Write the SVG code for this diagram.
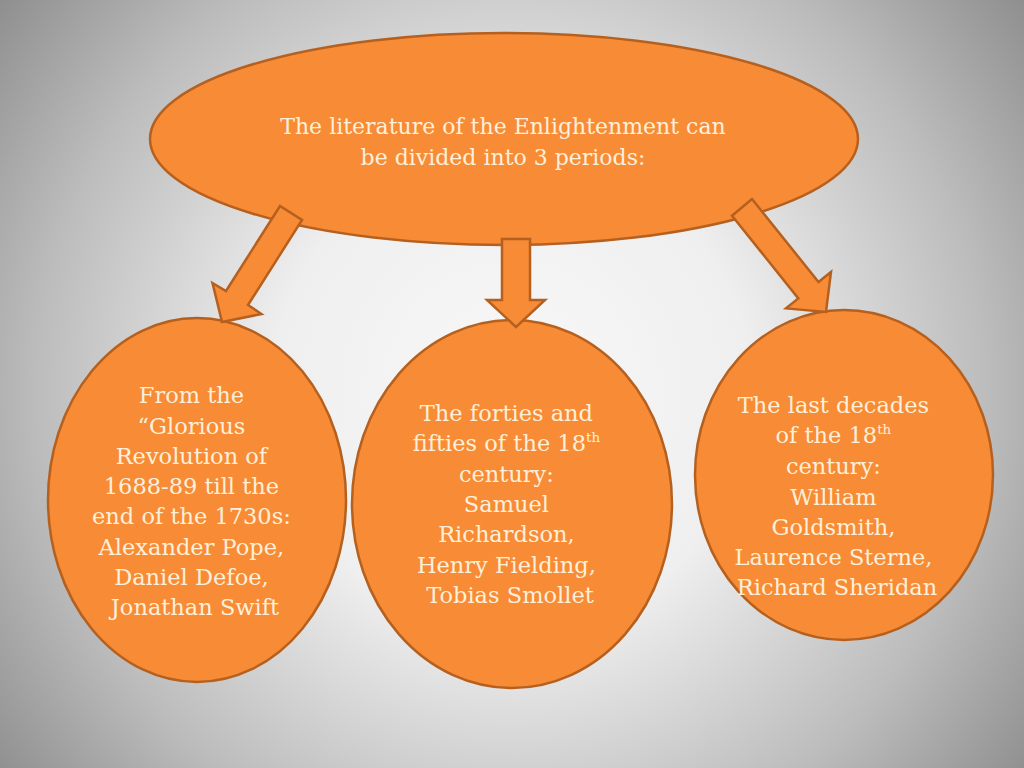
<svg xmlns="http://www.w3.org/2000/svg" width="1024" height="768" viewBox="0 0 1024 768">
<defs>
<radialGradient id="bg" cx="512" cy="390" r="680" gradientUnits="userSpaceOnUse">
<stop offset="0" stop-color="#f8f8f8"/>
<stop offset="0.35" stop-color="#efefef"/>
<stop offset="0.7" stop-color="#bcbcbc"/>
<stop offset="1" stop-color="#858585"/>
</radialGradient>
</defs>
<style>
.shape{fill:#f88b35;stroke:#b5601f;stroke-width:2.5}
.arrow{fill:#f88b35;stroke:#b5601f;stroke-width:2.5;stroke-linejoin:miter}
.t{font-family:"DejaVu Serif","Liberation Serif",serif;fill:#fdf0da;text-anchor:middle}
.top{font-size:22px}
.body{font-size:22.5px}
.sup{font-size:13.5px}
</style>
<rect width="1024" height="768" fill="url(#bg)"/>
<g id="top-node">
<ellipse class="shape" cx="504" cy="139" rx="354" ry="106"/>
<text class="t top" x="503" y="134">The literature of the Enlightenment can</text>
<text class="t top" x="503" y="165">be divided into 3 periods:</text>
</g>
<g id="left-node">
<ellipse class="shape" cx="197" cy="500" rx="149" ry="182"/>
<text class="t body" x="195">
<tspan x="195" y="403">From the</tspan>
<tspan x="195" y="434">“Glorious</tspan>
<tspan x="195" y="464">Revolution of</tspan>
<tspan x="195" y="494">1688-89 till the</tspan>
<tspan x="195" y="524">end of the 1730s:</tspan>
<tspan x="195" y="555">Alexander Pope,</tspan>
<tspan x="195" y="585">Daniel Defoe,</tspan>
<tspan x="195" y="615">Jonathan Swift</tspan>
</text>
</g>
<g id="middle-node">
<ellipse class="shape" cx="512" cy="504" rx="160" ry="184"/>
<text class="t body">
<tspan x="510" y="421">The forties and</tspan>
<tspan x="510" y="451">fifties of the 18<tspan class="sup" dy="-9">th</tspan></tspan>
<tspan x="510" y="482">century:</tspan>
<tspan x="510" y="512">Samuel</tspan>
<tspan x="510" y="542">Richardson,</tspan>
<tspan x="510" y="573">Henry Fielding,</tspan>
<tspan x="510" y="603">Tobias Smollet</tspan>
</text>
</g>
<g id="right-node">
<ellipse class="shape" cx="844" cy="475" rx="149" ry="165"/>
<text class="t body">
<tspan x="837" y="413">The last decades</tspan>
<tspan x="837" y="443">of the 18<tspan class="sup" dy="-9">th</tspan></tspan>
<tspan x="837" y="474">century:</tspan>
<tspan x="837" y="505">William</tspan>
<tspan x="837" y="535">Goldsmith,</tspan>
<tspan x="837" y="565">Laurence Sterne,</tspan>
<tspan x="837" y="595">Richard Sheridan</tspan>
</text>
</g>
<g id="connectors">
<polygon class="arrow" points="302,220 248,305 261.5,314 222,322 212.5,283 226,291 280,206"/>
<polygon class="arrow" points="502,239 530,239 530,300 545,300 516,327 487,300 502,300"/>
<polygon class="arrow" points="752,199 818.5,282 831,272 826,312 786,308.4 798.3,298.4 732,215.7"/>
</g>
</svg>
